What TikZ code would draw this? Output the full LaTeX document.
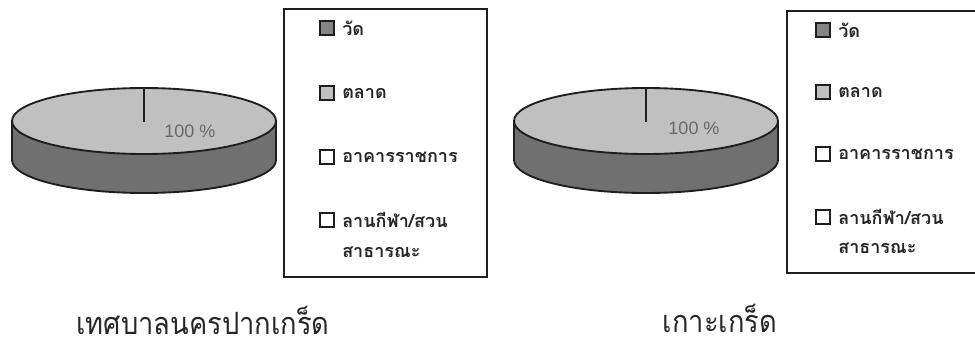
\documentclass[tikz,border=0pt]{standalone}
\usepackage{fontspec}
\setmainfont{Liberation Sans}
\newfontfamily\thaifont[Script=Thai]{Loma}
\definecolor{pietop}{RGB}{192,192,192}
\definecolor{pieside}{RGB}{112,112,112}
\definecolor{pctgray}{RGB}{105,105,105}
\definecolor{edge}{RGB}{30,30,30}
\tikzset{
  pieline/.style={draw=edge,line width=1.4pt},
  legbox/.style={draw=edge,line width=1.4pt,fill=white},
  swatch/.style={draw=edge,line width=1.3pt,minimum size=10.5pt,inner sep=0pt},
  legtext/.style={anchor=west,inner sep=0pt,font=\thaifont\bfseries\fontsize{13.5}{16}\selectfont,text=black!85},
  pcttext/.style={inner sep=0pt,font=\fontsize{13.5}{15}\selectfont,text=pctgray},
  caption/.style={inner sep=0pt,font=\thaifont\fontsize{23}{26}\selectfont,text=black!85}
}
\newcommand{\piechart}[3]{% #1 cx, #2 cy, #3 name
  \fill[pieside] (#1-132,#2) -- (#1-132,#2+39) arc[start angle=180,end angle=0,x radius=132,y radius=33] -- (#1+132,#2) arc[start angle=0,end angle=180,x radius=132,y radius=33] -- cycle;
  \draw[pieline] (#1-132,#2) -- (#1-132,#2+39) arc[start angle=180,end angle=0,x radius=132,y radius=33] -- (#1+132,#2);
  \draw[pieline,fill=pietop] (#1,#2) ellipse[x radius=132,y radius=33];
  \coordinate (#3c) at (#1,#2+1);
  \coordinate (#3t) at (#1,#2-33);
  \draw[pieline] (#3t) -- (#3c);
}
\begin{document}
\begin{tikzpicture}[x=0.75pt,y=-0.75pt]
\useasboundingbox (0,0) rectangle (975,350);
% left pie
\piechart{144}{121}{L}
\node[pcttext] (Lpct) at (190,131) {100 \%};
% left legend
\draw[legbox] (284,9) rectangle (487,277);
\node[swatch,fill=pieside!85] (La) at (327,28) {};
\node[legtext] (Lat) at (342,28) {วัด};
\node[swatch,fill=pietop] (Lb) at (327,93) {};
\node[legtext] (Lbt) at (342,93) {ตลาด};
\node[swatch,fill=white] (Lc) at (327,157) {};
\node[legtext] (Lct) at (342,157) {อาคารราชการ};
\node[swatch,fill=white] (Ld) at (327,220) {};
\node[legtext] (Ldt) at (342,220) {ลานกีฬา/สวน};
\node[legtext] (Ldt2) at (342,252) {สาธารณะ};
% right pie
\piechart{646}{121}{R}
\node[pcttext] (Rpct) at (694,128) {100 \%};
% right legend
\draw[legbox] (787,11) rectangle (980,273);
\node[swatch,fill=pieside!85] (Ra) at (823,30) {};
\node[legtext] (Rat) at (838,30) {วัด};
\node[swatch,fill=pietop] (Rb) at (823,92) {};
\node[legtext] (Rbt) at (838,92) {ตลาด};
\node[swatch,fill=white] (Rc) at (823,154) {};
\node[legtext] (Rct) at (838,154) {อาคารราชการ};
\node[swatch,fill=white] (Rd) at (823,217) {};
\node[legtext] (Rdt) at (838,217) {ลานกีฬา/สวน};
\node[legtext] (Rdt2) at (838,248) {สาธารณะ};
% captions
\node[caption] (capL) at (203,320) {\scalebox{0.89}[1]{เทศบาลนครปากเกร็ด}};
\node[caption] (capR) at (720,318) {\scalebox{0.89}[1]{เกาะเกร็ด}};
\end{tikzpicture}
\end{document}
